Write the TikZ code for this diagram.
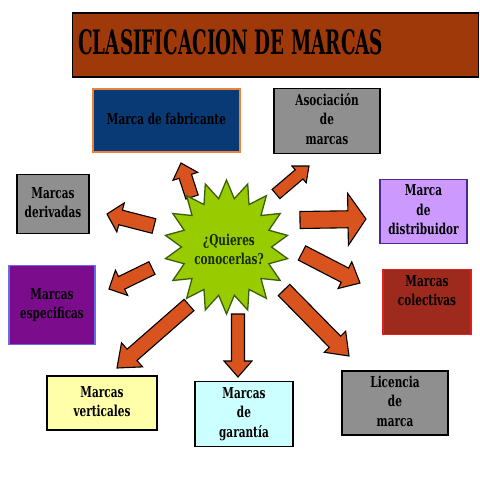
\documentclass[tikz,border=0pt]{standalone}
\usepackage{graphicx}
\usepackage{fontspec}
\newfontfamily\heavy{DejaVu Serif}
\usetikzlibrary{calc}
\definecolor{titlebg}{HTML}{A0390A}
\definecolor{navy}{HTML}{0A3A75}
\definecolor{navyline}{HTML}{E8833A}
\definecolor{grayfill}{HTML}{8F8F8F}
\definecolor{lav}{HTML}{CC99FF}
\definecolor{lavline}{HTML}{4B2A8C}
\definecolor{purp}{HTML}{7B0C8C}
\definecolor{purpline}{HTML}{6A6AF0}
\definecolor{brick}{HTML}{9E2A1E}
\definecolor{brickline}{HTML}{E02020}
\definecolor{paleyel}{HTML}{FFFFAA}
\definecolor{palecyan}{HTML}{CCFFFF}
\definecolor{arrfill}{HTML}{D9531E}
\definecolor{lime}{HTML}{99CC00}
\definecolor{limeline}{HTML}{3A5F0B}
\definecolor{startxt}{HTML}{1A2A00}
\newcommand\bt[1]{\scalebox{0.7}[1]{\heavy\bfseries\fontsize{15}{19.5}\selectfont
  \begin{tabular}{@{}c@{}}#1\end{tabular}}}
\tikzset{
  boxsty/.style={draw, line width=1.8pt, align=center, inner sep=0pt, text=black},
  arrsty/.style={draw=black, line width=1.1pt, fill=arrfill, line join=miter},
  starsty/.style={draw=limeline, line width=1.3pt, fill=lime, line join=miter},
  startext/.style={align=center, inner sep=0pt, text=startxt}
}
\newcommand\blockarrow[5]{%
  \coordinate (neck) at ($(#2)!#5!(#1)$);
  \draw[arrsty] ($(#1)!#3!90:(#2)$) -- ($(neck)!#3!90:(#2)$) -- ($(neck)!#4!90:(#2)$)
    -- (#2) -- ($(neck)!#4!-90:(#2)$) -- ($(neck)!#3!-90:(#2)$) -- ($(#1)!#3!-90:(#2)$) -- cycle;
}
\begin{document}
\begin{tikzpicture}[x=1pt,y=-1pt]
\useasboundingbox[fill=white] (0,0) rectangle (480,480);
% title
\node[draw=black, line width=1.5pt, fill=titlebg, minimum width=406pt, minimum height=64pt,
  inner sep=0pt] (title) at (275.5,45) {};
\node[anchor=west, inner sep=0pt] (titletext) at (78,42.5)
  {\resizebox{305pt}{25pt}{\heavy\bfseries CLASIFICACION DE MARCAS}};
% boxes
\node[boxsty, draw=navyline, fill=navy, minimum width=147pt, minimum height=63pt] (fab) at (166.5,120.5) {\bt{Marca de fabricante}};
\node[boxsty, fill=grayfill, minimum width=106pt, minimum height=65pt] (aso) at (327,121) {\bt{Asociación\\de\\marcas}};
\node[boxsty, fill=grayfill, minimum width=72pt, minimum height=59pt] (der) at (53,204) {\bt{Marcas\\derivadas}};
\node[boxsty, draw=lavline, fill=lav, minimum width=87pt, minimum height=64pt] (dis) at (423.5,211.5) {\bt{Marca\\de\\distribuidor}};
\node[boxsty, draw=purpline, fill=purp, minimum width=86pt, minimum height=79pt] (esp) at (52,305) {\bt{Marcas\\especificas}};
\node[boxsty, draw=brickline, fill=brick, minimum width=88pt, minimum height=65pt] (col) at (427,302) {\bt{Marcas\\colectivas\\\mbox{}}};
\node[boxsty, fill=paleyel, minimum width=110pt, minimum height=54pt] (ver) at (102,403) {\bt{Marcas\\verticales}};
\node[boxsty, fill=palecyan, minimum width=98pt, minimum height=65pt] (gar) at (244,414) {\bt{Marcas\\de\\garantía}};
\node[boxsty, fill=grayfill, minimum width=106pt, minimum height=64pt] (lic) at (395,403) {\bt{Licencia\\de\\marca}};
% arrow end points
\coordinate (a1t) at (192,197); \coordinate (a1h) at (181,163);
\coordinate (a2t) at (276,194); \coordinate (a2h) at (309,166);
\coordinate (a3t) at (154,226); \coordinate (a3h) at (107,214);
\coordinate (a4t) at (152,268); \coordinate (a4h) at (109,289);
\coordinate (a5t) at (300,220); \coordinate (a5h) at (366,219);
\coordinate (a6t) at (302,253); \coordinate (a6h) at (360,283);
\coordinate (a7t) at (189,305); \coordinate (a7h) at (117,368);
\coordinate (a8t) at (238,314); \coordinate (a8h) at (238,377);
\coordinate (a9t) at (284,290); \coordinate (a9h) at (349,356);
\blockarrow{a1t}{a1h}{6.5pt}{13pt}{14pt}
\blockarrow{a2t}{a2h}{6pt}{11pt}{13pt}
\blockarrow{a3t}{a3h}{7.5pt}{15pt}{14pt}
\blockarrow{a4t}{a4h}{7pt}{14pt}{14pt}
\blockarrow{a5t}{a5h}{8.5pt}{26pt}{18pt}
\blockarrow{a6t}{a6h}{8pt}{15pt}{17pt}
\blockarrow{a7t}{a7h}{7.5pt}{16pt}{20pt}
\blockarrow{a8t}{a8h}{6.5pt}{14pt}{16pt}
\blockarrow{a9t}{a9h}{8pt}{15pt}{20pt}
% star
\draw[starsty] plot[samples at={0,...,35}]
  ({226.5+ifthenelse(mod(\x,2)==0,62,45)*cos(90+\x*10)},
   {247-ifthenelse(mod(\x,2)==0,67,49)*sin(90+\x*10)}) -- cycle;
\node[startext] (q) at (229,251) {\bt{¿Quieres\\conocerlas?}};
\end{tikzpicture}
\end{document}
